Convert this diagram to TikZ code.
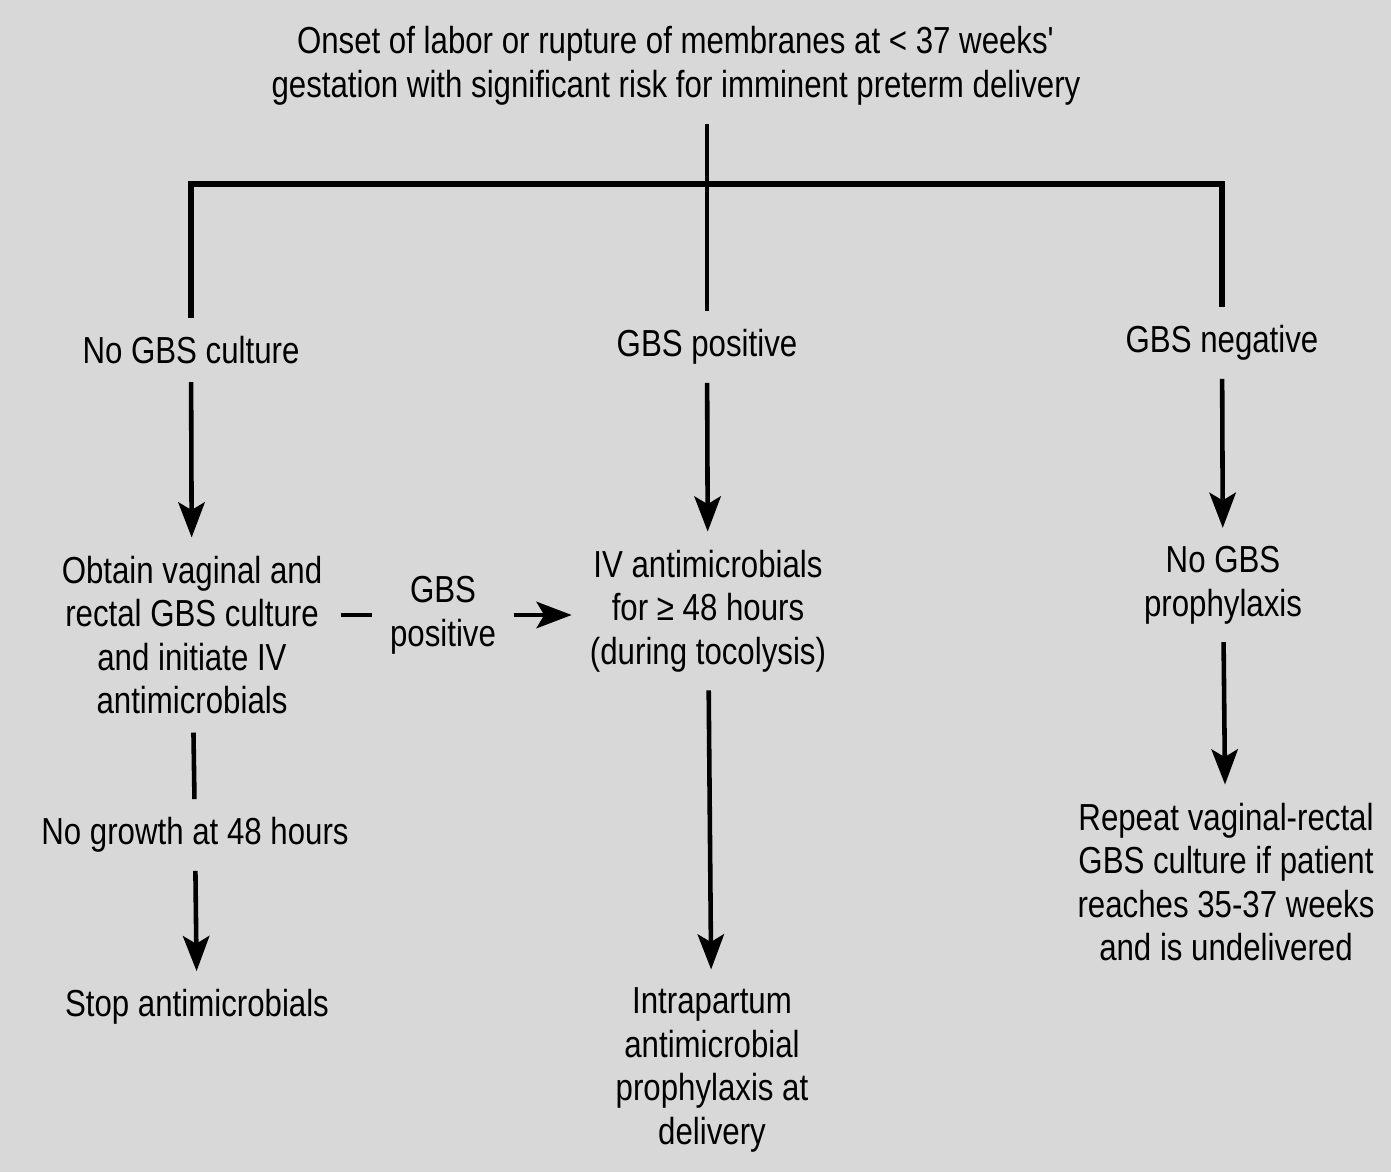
\documentclass[tikz,border=0pt]{standalone}
\usepackage{fontspec}
\setmainfont[FakeStretch=0.83]{Liberation Sans}
\usetikzlibrary{arrows.meta}
\definecolor{papel}{RGB}{216,216,216}

\begin{document}
\begin{tikzpicture}[
    x=0.01cm, y=-0.01cm,
    font=\fontsize{10.7}{12.4}\selectfont,
    texto/.style={align=center,inner sep=5pt},
    arco/.style={line width=1.3pt},
    flecha/.style={arco,-{Stealth[length=10pt,width=7.5pt,inset=2.2pt]}}]

  \fill[papel] (0,0) rectangle (1391,1172);
  \useasboundingbox (0,0) rectangle (1391,1172);

  %% ============================== inicio ===================================
  \node[texto] (onset) at (676,66)
    {Onset of labor or rupture of membranes at < 37 weeks\textquotesingle\\
     gestation with significant risk for imminent preterm delivery};
  \coordinate (split) at (707,184);

  %% ============================ ramas: cultivo ==============================
  \node[texto] (nocult) at (191,350) {No GBS culture};
  \node[texto] (gbspos) at (707,347) {GBS positive};
  \node[texto] (gbsneg) at (1222,343) {GBS negative};

  \draw[arco] (gbspos |- onset.south) -- (gbspos);
  \draw[arco,line width=1.5pt] (nocult) |- (split) -| (gbsneg);

  %% ============================ columna izquierda ===========================
  \node[texto] (obtain) at (192,635)
    {Obtain vaginal and\\ rectal GBS culture\\ and initiate IV\\ antimicrobials};
  \node[texto] (gbspos2) at (443,615) {GBS\\ positive};
  \node[texto] (nogrowth) at (195,835) {No growth at 48 hours};
  \node[texto] (stop) at (197,1007) {Stop antimicrobials};

  \draw[flecha] (nocult) -- (obtain);
  \draw[arco] (obtain) -- (nogrowth);
  \draw[flecha] (nogrowth) -- (stop);

  %% ============================ columna central =============================
  \node[texto] (ivanti) at (708,611)
    {IV antimicrobials\\ for ≥ 48 hours\\ (during tocolysis)};
  \node[texto] (intra) at (712,1070)
    {Intrapartum\\ antimicrobial\\ prophylaxis at\\ delivery};

  \draw[arco] (gbspos2.west -| obtain.east) -- (gbspos2.west);
  \draw[flecha] (gbspos2.east) -- (gbspos2.east -| ivanti.west);
  \draw[flecha] (gbspos) -- (ivanti);
  \draw[flecha] (ivanti) -- (intra);

  %% ============================ columna derecha =============================
  \node[texto] (noproph) at (1223,585) {No GBS\\ prophylaxis};
  \node[texto] (repeat) at (1226,882)
    {Repeat vaginal-rectal\\ GBS culture if patient\\ reaches 35-37 weeks\\ and is undelivered};

  \draw[flecha] (gbsneg) -- (noproph);
  \draw[flecha] (noproph) -- (repeat);

\end{tikzpicture}
\end{document}
